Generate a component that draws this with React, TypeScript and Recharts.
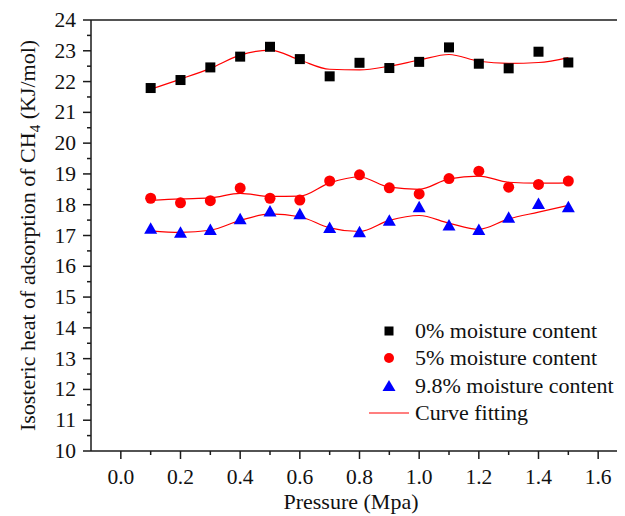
import {
  ComposedChart,
  Line,
  Scatter,
  XAxis,
  YAxis,
  Label,
  ReferenceLine,
} from "recharts";

const pressure = [0.1, 0.2, 0.3, 0.4, 0.5, 0.6, 0.7, 0.8, 0.9, 1.0, 1.1, 1.2, 1.3, 1.4, 1.5];
const heat0 = [21.79, 22.05, 22.46, 22.81, 23.13, 22.73, 22.17, 22.61, 22.44, 22.64, 23.11, 22.58, 22.43, 22.97, 22.62];
const heat5 = [18.21, 18.06, 18.13, 18.54, 18.21, 18.15, 18.77, 18.97, 18.55, 18.35, 18.85, 19.09, 18.57, 18.66, 18.77];
const heat98 = [17.2, 17.07, 17.16, 17.51, 17.76, 17.67, 17.23, 17.09, 17.46, 17.9, 17.31, 17.16, 17.56, 18.01, 17.9];
const fit0 = [21.75, 22.08, 22.43, 22.86, 23.02, 22.7, 22.4, 22.38, 22.5, 22.7, 22.88, 22.66, 22.59, 22.62, 22.78];
const fit5 = [18.14, 18.19, 18.22, 18.37, 18.27, 18.28, 18.71, 18.9, 18.57, 18.5, 18.84, 18.93, 18.73, 18.7, 18.71];
const fit98 = [17.15, 17.1, 17.17, 17.49, 17.7, 17.61, 17.25, 17.13, 17.49, 17.65, 17.4, 17.2, 17.54, 17.76, 17.98];

const xTicks = [0, 0.1, 0.2, 0.3, 0.4, 0.5, 0.6, 0.7, 0.8, 0.9, 1.0, 1.1, 1.2, 1.3, 1.4, 1.5, 1.6];
const yTicks = [10, 10.5, 11, 11.5, 12, 12.5, 13, 13.5, 14, 14.5, 15, 15.5, 16, 16.5, 17, 17.5, 18, 18.5, 19, 19.5, 20, 20.5, 21, 21.5, 22, 22.5, 23, 23.5, 24];

const legendItems = ["0% moisture content", "5% moisture content", "9.8% moisture content", "Curve fitting"];

const FONT = "Liberation Serif, Tinos, Times New Roman, DejaVu Serif, serif";
const AXIS = "#1a1a1a";

const data = pressure.map((p, i) => ({
  x: p,
  s0: heat0[i],
  s5: heat5[i],
  s98: heat98[i],
  f0: fit0[i],
  f5: fit5[i],
  f98: fit98[i],
}));

const XTick = ({ x, y, payload }: any) => {
  const v = payload.value;
  const major = Math.round(v * 10) % 2 === 0;
  return (
    <g>
      <line x1={x} x2={x} y1={y} y2={y + (major ? 8 : 4)} stroke={AXIS} strokeWidth={1.5} />
      {major && (
        <text x={x} y={y + 33} textAnchor="middle" style={{ fontFamily: FONT, fontSize: 21.5 }} fill="#111">
          {v.toFixed(1)}
        </text>
      )}
    </g>
  );
};

const YTick = ({ x, y, payload }: any) => {
  const v = payload.value;
  const major = Number.isInteger(v);
  return (
    <g>
      <line x1={x} x2={x - (major ? 8 : 4)} y1={y} y2={y} stroke={AXIS} strokeWidth={1.5} />
      {major && (
        <text x={x - 15} y={y + 7} textAnchor="end" style={{ fontFamily: FONT, fontSize: 21.5 }} fill="#111">
          {v}
        </text>
      )}
    </g>
  );
};

const YTitle = ({ viewBox }: any) => {
  const cx = viewBox.x + 27;
  const cy = viewBox.y + viewBox.height / 2;
  return (
    <text
      x={cx}
      y={cy}
      transform={`rotate(-90, ${cx}, ${cy})`}
      textAnchor="middle"
      style={{ fontFamily: FONT, fontSize: 22 }}
      fill="#111"
    >
      Isosteric heat of adsorption of CH
      <tspan style={{ fontSize: 15 }} dy={5}>4</tspan>
      <tspan dy={-5}> (KJ/mol)</tspan>
    </text>
  );
};

const XTitle = ({ viewBox }: any) => (
  <text x={viewBox.x + 260} y={viewBox.y + 58} textAnchor="middle" style={{ fontFamily: FONT, fontSize: 22 }} fill="#111">
    Pressure (Mpa)
  </text>
);

const Square = ({ cx, cy }: any) => <rect x={cx - 5} y={cy - 5} width={10} height={10} fill="#000" />;
const Dot = ({ cx, cy }: any) => <circle cx={cx} cy={cy} r={5.5} fill="#ff0000" />;
const Tri = ({ cx, cy }: any) => (
  <polygon points={`${cx},${cy - 7} ${cx - 6.5},${cy + 4.5} ${cx + 6.5},${cy + 4.5}`} fill="#0000ff" />
);

function LegendIcon({ i }: { i: number }) {
  return (
    <svg width={40} height={16} style={{ display: "block" }}>
      {i === 0 && <rect x={15.5} y={3.5} width={9} height={9} fill="#000" />}
      {i === 1 && <circle cx={20} cy={8} r={5} fill="#ff0000" />}
      {i === 2 && <polygon points="20,2 13.5,13 26.5,13" fill="#0000ff" />}
      {i === 3 && <line x1={0} x2={40} y1={8} y2={8} stroke="#ff0000" strokeWidth={1.2} />}
    </svg>
  );
}

export default function App() {
  return (
    <div style={{ position: "relative", width: 617, height: 508, overflow: "hidden", background: "#fff", fontFamily: FONT }}>
      <ComposedChart width={640} height={508} data={data} margin={{ top: 12, right: 20, left: 0, bottom: 0 }}>
        <XAxis
          type="number"
          dataKey="x"
          domain={[-0.1, 1.7]}
          ticks={xTicks}
          interval={0}
          tick={<XTick />}
          tickLine={false}
          tickSize={0}
          tickMargin={0}
          height={65}
          axisLine={{ stroke: AXIS, strokeWidth: 1.5 }}
        >
          <Label content={<XTitle />} />
        </XAxis>
        <YAxis
          type="number"
          domain={[10, 24]}
          ticks={yTicks}
          interval={0}
          tick={<YTick />}
          tickLine={false}
          tickSize={0}
          tickMargin={0}
          width={83}
          axisLine={{ stroke: AXIS, strokeWidth: 1.5 }}
        >
          <Label content={<YTitle />} />
        </YAxis>
        <ReferenceLine y={24} stroke={AXIS} strokeWidth={1.5} />
        <Line type="monotone" dataKey="f0" stroke="#ff0000" strokeWidth={1.2} dot={false} isAnimationActive={false} />
        <Line type="monotone" dataKey="f5" stroke="#ff0000" strokeWidth={1.2} dot={false} isAnimationActive={false} />
        <Line type="monotone" dataKey="f98" stroke="#ff0000" strokeWidth={1.2} dot={false} isAnimationActive={false} />
        <Scatter dataKey="s0" shape={<Square />} isAnimationActive={false} />
        <Scatter dataKey="s5" shape={<Dot />} isAnimationActive={false} />
        <Scatter dataKey="s98" shape={<Tri />} isAnimationActive={false} />
      </ComposedChart>
      <div style={{ position: "absolute", left: 361, top: 309, fontSize: 22, color: "#111" }}>
        {legendItems.map((name, i) => (
          <div key={name} style={{ display: "flex", alignItems: "center", height: 27.5, whiteSpace: "nowrap" }}>
            <LegendIcon i={i} />
            <span style={{ marginLeft: 6 }}>{name}</span>
          </div>
        ))}
      </div>
    </div>
  );
}
